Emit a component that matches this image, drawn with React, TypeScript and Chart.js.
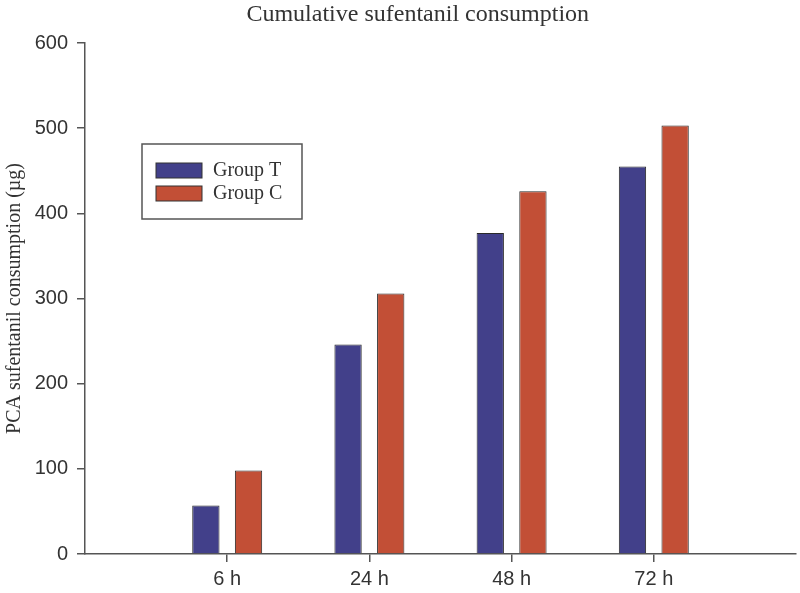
import React, { useEffect, useRef } from "react";
import { Chart, registerables } from "chart.js";

Chart.register(...registerables);

const categories = ["6 h", "24 h", "48 h", "72 h"];
const groupT = [57, 246, 377, 455];
const groupC = [98, 306, 426, 503];
const seriesNames = ["Group T", "Group C"];
const yTicks = [0, 100, 200, 300, 400, 500, 600];
const titleText = "Cumulative sufentanil consumption";
const yTitle = "PCA sufentanil consumption (µg)";

const BLUE = "#42408A";
const RED = "#C24F36";

export default function App() {
  const ref = useRef<HTMLCanvasElement | null>(null);

  useEffect(() => {
    if (!ref.current) return;
    const overlay = {
      id: "overlay",
      afterDraw(chart: any) {
        const ctx = chart.ctx;
        const ca = chart.chartArea;
        ctx.save();
        // title
        ctx.fillStyle = "#333";
        ctx.font = "24px 'Liberation Serif', 'Times New Roman', serif";
        ctx.textAlign = "center";
        ctx.textBaseline = "alphabetic";
        ctx.fillText(titleText, ca.left + (ca.right - ca.left) * 0.468, 21);
        // legend
        const bx = 142, by = 144, bw = 160, bh = 75;
        ctx.strokeStyle = "#555";
        ctx.lineWidth = 1.5;
        ctx.strokeRect(bx, by, bw, bh);
        chart.data.datasets.forEach((ds: any, i: number) => {
          const y = by + 19 + i * 23;
          ctx.fillStyle = ds.backgroundColor;
          ctx.fillRect(bx + 14, y, 46, 15);
          ctx.strokeStyle = "#333";
          ctx.lineWidth = 1;
          ctx.strokeRect(bx + 14, y, 46, 15);
          ctx.fillStyle = "#333";
          ctx.font = "20px 'Liberation Serif', 'Times New Roman', serif";
          ctx.textAlign = "left";
          ctx.textBaseline = "middle";
          ctx.fillText(ds.label, bx + 71, y + 8);
        });
        ctx.restore();
      },
    };

    const chart = new Chart(ref.current, {
      type: "bar",
      data: {
        datasets: [
          {
            label: seriesNames[0],
            data: groupT.map((v, i) => ({ x: i, y: v })),
            backgroundColor: BLUE,
            borderColor: "#2a2a2a",
            borderWidth: 1,
            categoryPercentage: 0.6,
            barPercentage: 0.64,
          },
          {
            label: seriesNames[1],
            data: groupC.map((v, i) => ({ x: i, y: v })),
            backgroundColor: RED,
            borderColor: "#2a2a2a",
            borderWidth: 1,
            categoryPercentage: 0.6,
            barPercentage: 0.64,
          },
        ],
      },
      options: {
        animation: false,
        responsive: true,
        maintainAspectRatio: false,
        layout: { padding: { top: 43, right: 4, left: 0, bottom: 0 } },
        plugins: {
          legend: { display: false },
          tooltip: { enabled: false },
          title: { display: false },
        },
        scales: {
          x: {
            type: "linear",
            min: -1,
            max: 4,
            offset: false,
            afterBuildTicks: (scale: any) => {
              scale.ticks = categories.map((_, i) => ({ value: i }));
            },
            afterFit: (scale: any) => {
              scale.height = 39;
            },
            ticks: {
              callback: (v: any) => categories[v] ?? "",
              color: "#333",
              font: { family: "'Liberation Sans', Arial, sans-serif", size: 20 },
              padding: 5,
              maxRotation: 0,
              autoSkip: false,
            },
            grid: {
              offset: false,
              drawOnChartArea: false,
              drawTicks: true,
              tickLength: 8,
              color: "#555",
              lineWidth: 1.5,
            },
            border: { display: true, color: "#555", width: 1.5 },
          },
          y: {
            min: 0,
            max: 600,
            afterBuildTicks: (scale: any) => {
              scale.ticks = yTicks.map((v) => ({ value: v }));
            },
            afterFit: (scale: any) => {
              scale.width = 85;
            },
            ticks: {
              color: "#333",
              font: { family: "'Liberation Sans', Arial, sans-serif", size: 20 },
              padding: 9,
            },
            grid: {
              drawOnChartArea: false,
              drawTicks: true,
              tickLength: 8,
              color: "#555",
              lineWidth: 1.5,
            },
            border: { display: true, color: "#555", width: 1.5 },
            title: {
              display: true,
              text: yTitle,
              color: "#333",
              font: { family: "'Liberation Serif', 'Times New Roman', serif", size: 20 },
              padding: { top: 3, bottom: 0 },
            },
          },
        },
      },
      plugins: [overlay],
    } as any);
    return () => chart.destroy();
  }, []);

  return (
    <div style={{ position: "fixed", left: 0, top: 0, width: 800, height: 593, background: "#fff" }}>
      <canvas ref={ref} />
    </div>
  );
}
